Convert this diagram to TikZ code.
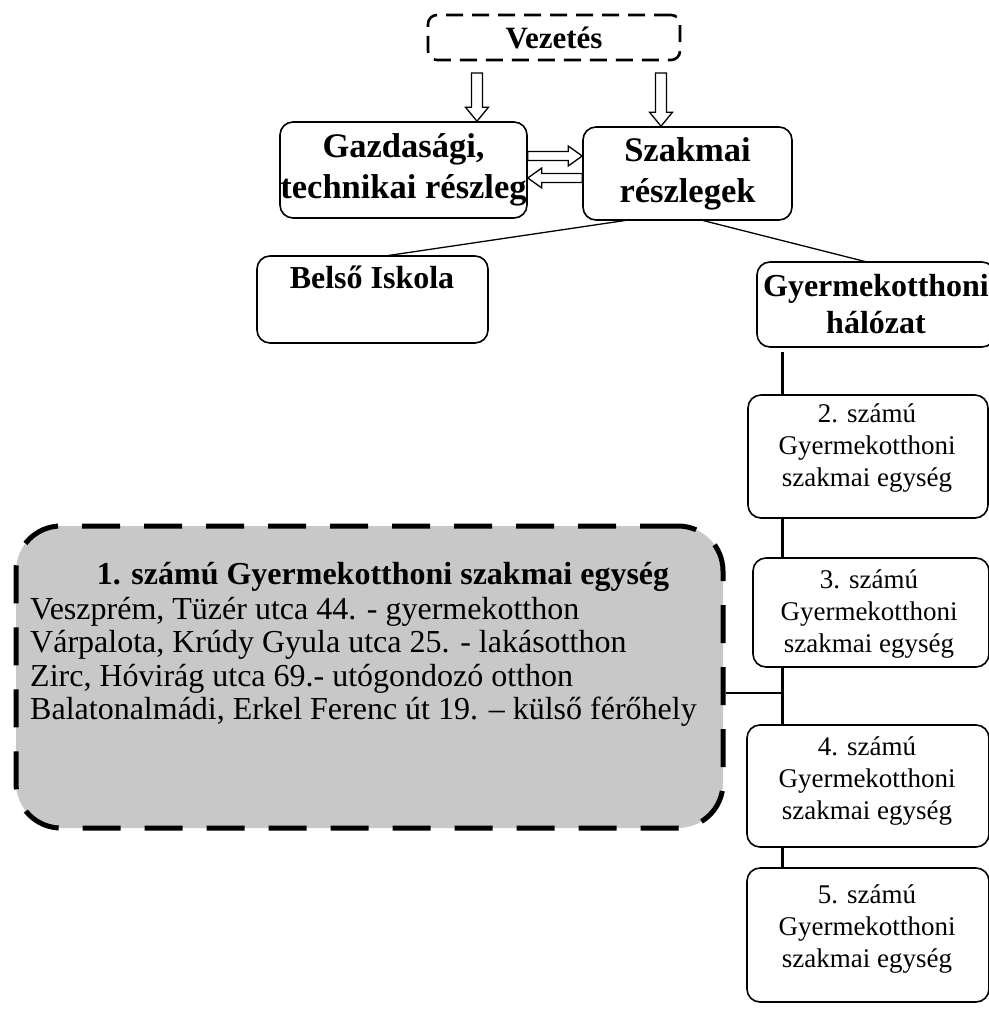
\documentclass[tikz,border=0pt]{standalone}
\usepackage{fontspec}
\setmainfont{Liberation Serif}
\usetikzlibrary{calc}
\definecolor{unitgray}{RGB}{200,200,200}
\tikzset{
  box/.style={draw, line width=1.6pt, rounded corners=13pt, fill=white, inner sep=0pt, align=center},
  bigtxt/.style={font=\fontsize{34.5}{41}\selectfont\bfseries},
  headtxt/.style={font=\fontsize{32}{37}\selectfont\bfseries, align=center, inner sep=0pt},
  smalltxt/.style={font=\fontsize{27}{32}\selectfont, align=center, inner sep=0pt},
  link/.style={line width=1.3pt},
  spine/.style={line width=3pt},
  hollow/.style={draw, line width=1.3pt, fill=white, line join=miter},
}
\newcommand\hollowdown[2]{%
  \draw[hollow] ($(#1)+(-5.5,0)$) -- ($(#1)+(5.5,0)$) -- ($(#2)+(5.5,-14)$) -- ($(#2)+(11.5,-14)$)
   -- (#2) -- ($(#2)+(-11.5,-14)$) -- ($(#2)+(-5.5,-14)$) -- cycle;}
\newcommand\hollowright[2]{%
  \draw[hollow] ($(#1)+(0,-4.5)$) -- ($(#2)+(-14,-4.5)$) -- ($(#2)+(-14,-10)$) -- (#2)
   -- ($(#2)+(-14,10)$) -- ($(#2)+(-14,4.5)$) -- ($(#1)+(0,4.5)$) -- cycle;}
\newcommand\hollowleft[2]{%
  \draw[hollow] ($(#1)+(0,-4.5)$) -- ($(#2)+(14,-4.5)$) -- ($(#2)+(14,-10)$) -- (#2)
   -- ($(#2)+(14,10)$) -- ($(#2)+(14,4.5)$) -- ($(#1)+(0,4.5)$) -- cycle;}
\begin{document}
\begin{tikzpicture}[x=1pt,y=-1pt]
\useasboundingbox[fill=white] (0,0) rectangle (988,1009);

% top boxes
\node[draw, line width=2.6pt, dash pattern=on 17pt off 9pt, rounded corners=9pt,
      minimum width=252pt, minimum height=45pt, inner sep=0pt,
      font=\fontsize{31}{34}\selectfont\bfseries] (vez) at (554,37.5) {Vezetés};
\node[box, bigtxt, minimum width=247pt, minimum height=96pt] (gazd) at (403.5,170) {Gazdasági,\\technikai részleg};
\node[box, bigtxt, minimum width=209pt, minimum height=93pt] (szak) at (687.5,173.5) {Szakmai\\részlegek};

% hollow arrows
\coordinate (a1t) at (477,73);  \coordinate (a1b) at (gazd.north -| a1t);
\coordinate (a2t) at (661,73);  \coordinate (a2b) at (szak.north -| a2t);
\hollowdown{a1t}{a1b}
\hollowdown{a2t}{a2b}
\coordinate (r1) at (gazd.east |- 0,156); \coordinate (r2) at (szak.west |- 0,156);
\coordinate (l1) at (szak.west |- 0,178); \coordinate (l2) at (gazd.east |- 0,178);
\hollowright{r1}{r2}
\hollowleft{l1}{l2}

% second level
\node[box, minimum width=231pt, minimum height=87pt] (belso) at (372.5,299.5) {};
\node[font=\fontsize{32}{36}\selectfont\bfseries, inner sep=0pt] (belsot) at (372,277) {Belső Iskola};
\node[box, headtxt, minimum width=238pt, minimum height=85pt] (gyh) at (876,304.5) {Gyermekotthoni\\hálózat};

\coordinate (s1) at (625,220.5);
\coordinate (s2) at (703,220.5);
\coordinate (b1) at (385,256);
\coordinate (g1) at (867,262);
\draw[link] (s1) -- (b1);
\draw[link] (s2) -- (g1);

% spine
\coordinate (sp1) at (782,352);
\coordinate (sp2) at (782,868);
\draw[spine] (sp1) -- (sp2);

% unit boxes
\node[box, minimum width=240pt, minimum height=123pt] (u2) at (868,456.5) {};
\node[smalltxt] (u2t) at (867,448) {2. számú\\Gyermekotthoni\\szakmai egység};
\node[box, minimum width=236pt, minimum height=109pt] (u3) at (871,612.5) {};
\node[smalltxt] (u3t) at (869,614) {3. számú\\Gyermekotthoni\\szakmai egység};
\node[box, minimum width=242pt, minimum height=122pt] (u4) at (868,786) {};
\node[smalltxt] (u4t) at (867,781) {4. számú\\Gyermekotthoni\\szakmai egység};
\node[box, minimum width=242pt, minimum height=134pt] (u5) at (868,935) {};
\node[smalltxt] (u5t) at (867,929) {5. számú\\Gyermekotthoni\\szakmai egység};

% big unit 1 box
\node[draw, line width=5pt, dash pattern=on 38pt off 24pt, rounded corners=45pt, fill=unitgray,
      minimum width=707pt, minimum height=302pt, inner sep=0pt] (u1) at (369.5,677) {};
\node[font=\fontsize{32}{33}\selectfont\bfseries, inner sep=0pt] (u1t) at (383,577) {1. számú Gyermekotthoni szakmai egység};
\node[anchor=west, align=left, font=\fontsize{32}{33.5}\selectfont, inner sep=0pt] (u1a) at (30,662)
  {Veszprém, Tüzér utca 44. - gyermekotthon\\
   Várpalota, Krúdy Gyula utca 25. - lakásotthon\\
   Zirc, Hóvirág utca 69.- utógondozó otthon\\
   Balatonalmádi, Erkel Ferenc út 19. – külső férőhely};
\coordinate (h1) at (782,693);
\draw[link, line width=1.8pt] (u1.east |- h1) -- (h1);
\end{tikzpicture}
\end{document}
